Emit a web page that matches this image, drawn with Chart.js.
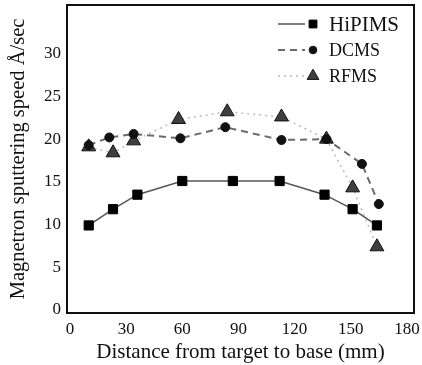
<!DOCTYPE html>
<html>
<head>
<meta charset="utf-8">
<script src="https://cdn.jsdelivr.net/npm/chart.js@4.4.1/dist/chart.umd.min.js"></script>
<style>
  html, body { margin: 0; padding: 0; background: #fff; }
  #wrap { width: 422px; height: 365px; }
</style>
</head>
<body>
<div id="wrap"><canvas id="c" width="422" height="365"></canvas></div>
<script>
// Distances (mm) for each series
const hipimsX = [10, 23, 36, 60, 87, 112, 136, 151, 164];
const dcmsX   = [10, 21, 34, 59, 83, 113, 137, 156, 165];
const rfmsX   = [10, 23, 34, 58, 84, 113, 137, 151, 164];
// Sputtering speed (Å/sec)
const hipimsY = [9.9, 11.8, 13.5, 15.1, 15.1, 15.1, 13.5, 11.8, 9.9];
const dcmsY   = [19.3, 20.2, 20.6, 20.1, 21.4, 19.9, 20.0, 17.1, 12.4];
const rfmsY   = [19.1, 18.4, 19.8, 22.3, 23.2, 22.6, 20.0, 14.3, 7.4];
// Series names
const seriesNames = ['HiPIMS', 'DCMS', 'RFMS'];
// Tick labels
const xTicks = [0, 30, 60, 90, 120, 150, 180];
const yTicks = [0, 5, 10, 15, 20, 25, 30];

const toPts = (xs, ys) => xs.map((x, i) => ({ x: x, y: ys[i] }));
const FONT = '"Liberation Serif", "Times New Roman", serif';

const frame = {
  id: 'frame',
  afterDatasetsDraw(chart) {
    const a = chart.chartArea, ctx = chart.ctx;
    ctx.save();
    ctx.strokeStyle = '#111';
    ctx.lineWidth = 2;
    ctx.setLineDash([]);
    ctx.strokeRect(a.left, a.top, a.right - a.left, a.bottom - a.top);
    ctx.restore();
  }
};

const legendBox = {
  id: 'legendBox',
  afterDraw(chart) {
    const ctx = chart.ctx;
    const rows = [
      { y: 24, size: 21 },
      { y: 50, size: 18 },
      { y: 76, size: 18 }
    ];
    chart.data.datasets.forEach((ds, i) => {
      const r = rows[i];
      ctx.save();
      ctx.strokeStyle = ds.borderColor;
      ctx.lineWidth = ds.borderWidth;
      ctx.setLineDash(ds.borderDash || []);
      ctx.beginPath();
      ctx.moveTo(278, r.y);
      ctx.lineTo(305, r.y);
      ctx.stroke();
      ctx.setLineDash([]);
      ctx.fillStyle = ds.pointBackgroundColor;
      ctx.strokeStyle = ds.pointBorderColor;
      ctx.lineWidth = ds.pointBorderWidth;
      Chart.helpers.drawPoint(ctx, {
        pointStyle: ds.pointStyle,
        radius: ds.pointRadius * 0.85,
        borderWidth: ds.pointBorderWidth,
        rotation: 0
      }, 313, r.y);
      ctx.fillStyle = '#111';
      ctx.font = r.size + 'px ' + FONT;
      ctx.textBaseline = 'middle';
      ctx.textAlign = 'left';
      ctx.fillText(ds.label, 329, r.y + 1);
      ctx.restore();
    });
  }
};

function noPad(s) {
  s.paddingTop = 0; s.paddingBottom = 0; s.paddingLeft = 0; s.paddingRight = 0;
}

new Chart(document.getElementById('c'), {
  type: 'scatter',
  data: {
    datasets: [
      {
        label: seriesNames[0],
        data: toPts(hipimsX, hipimsY),
        showLine: true,
        borderColor: '#555',
        borderWidth: 1.5,
        borderDash: [],
        pointStyle: 'rect',
        pointRadius: 6.5,
        pointBackgroundColor: '#000',
        pointBorderColor: '#000',
        pointBorderWidth: 1
      },
      {
        label: seriesNames[1],
        data: toPts(dcmsX, dcmsY),
        showLine: true,
        borderColor: '#6a6a6a',
        borderWidth: 2,
        borderDash: [7, 5],
        pointStyle: 'circle',
        pointRadius: 4.5,
        pointBackgroundColor: '#111',
        pointBorderColor: '#111',
        pointBorderWidth: 1
      },
      {
        label: seriesNames[2],
        data: toPts(rfmsX, rfmsY),
        showLine: true,
        borderColor: '#bbb',
        borderWidth: 1.5,
        borderDash: [2, 4],
        pointStyle: 'triangle',
        pointRadius: 8,
        pointBackgroundColor: '#3f3f3f',
        pointBorderColor: '#111',
        pointBorderWidth: 1
      }
    ]
  },
  options: {
    responsive: false,
    animation: false,
    devicePixelRatio: 1,
    layout: { autoPadding: false, padding: { top: 5, right: 8, bottom: 0, left: 0 } },
    plugins: {
      legend: { display: false },
      tooltip: { enabled: false }
    },
    scales: {
      x: {
        type: 'linear',
        min: -1.6,
        max: 183.8,
        grid: { display: false, drawTicks: false },
        border: { display: false },
        afterBuildTicks: (s) => { s.ticks = xTicks.map(v => ({ value: v })); },
        afterFit: (s) => { s.height = 52; noPad(s); },
        ticks: {
          color: '#111',
          font: { family: FONT, size: 17 },
          padding: 6,
          maxRotation: 0,
          autoSkip: false
        },
        title: {
          display: true,
          text: 'Distance from target to base (mm)',
          color: '#111',
          font: { family: FONT, size: 21 },
          padding: { top: 0, bottom: 0 }
        }
      },
      y: {
        type: 'linear',
        min: -0.35,
        max: 35.7,
        grid: { display: false, drawTicks: false },
        border: { display: false },
        afterBuildTicks: (s) => { s.ticks = yTicks.map(v => ({ value: v })); },
        afterFit: (s) => { s.width = 67; noPad(s); },
        ticks: {
          color: '#111',
          font: { family: FONT, size: 17 },
          padding: 6,
          autoSkip: false
        },
        title: {
          display: true,
          text: 'Magnetron sputtering speed Å/sec',
          color: '#111',
          font: { family: FONT, size: 20.5 },
          padding: { top: 6, bottom: 0 }
        }
      }
    }
  },
  plugins: [frame, legendBox]
});
</script>
</body>
</html>
